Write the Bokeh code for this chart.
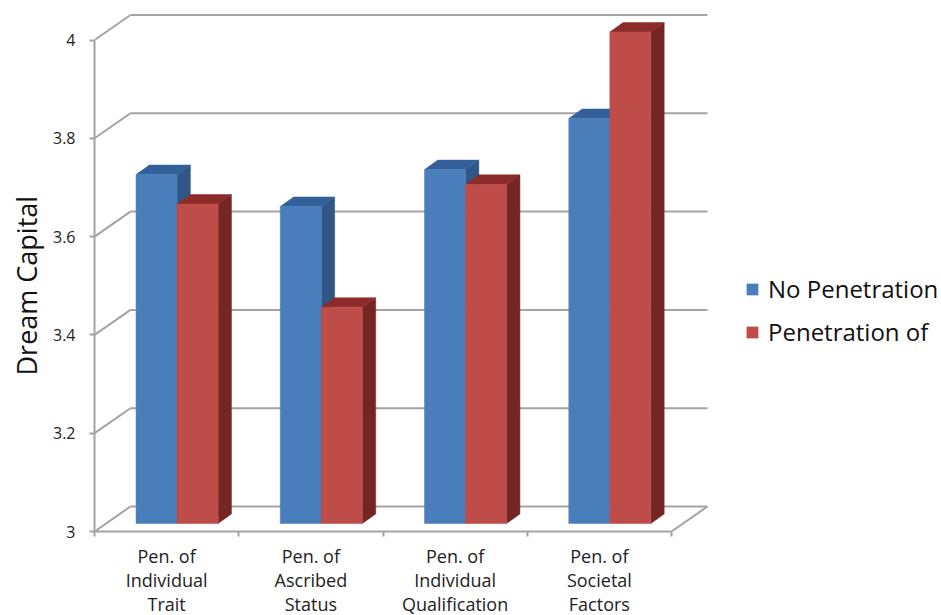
from bokeh.embed import file_html
from bokeh.resources import INLINE
from bokeh.plotting import figure
from bokeh.models import FixedTicker, Legend, LegendItem, Range1d, Title

# Chart values
categories = ["Pen. of\nIndividual\nTrait", "Pen. of\nAscribed\nStatus",
              "Pen. of\nIndividual\nQualification", "Pen. of\nSocietal\nFactors"]
no_penetration = [3.71, 3.645, 3.72, 3.824]
penetration_of = [3.65, 3.44, 3.69, 4.0]
value_ticks = [3, 3.2, 3.4, 3.6, 3.8, 4]
value_labels = ["3", "3.2", "3.4", "3.6", "3.8", "4"]
series_names = ["No Penetration", "Penetration of"]
value_title = "Dream Capital"

# Scale: px per category and px per unit of value
CAT_PX = 144.25
VAL_PX = 491.5
FRAME_W, FRAME_H = 847, 531

# Oblique depth of the box, in data units
DEPTH_X = 36 / CAT_PX
DEPTH_Y = 25 / VAL_PX
BAR_FRONT_X, BAR_BACK_X = 0.29, 0.66   # part of the box depth taken by the bars
BAR_FRONT_Y, BAR_BACK_Y = 0.32, 0.70
BAR_W = 0.2845

GRID = "#a3a3a3"
FONT = "Open Sans"
BLUE = ("#4a7ebb", "#2f5687", "#33609a")
RED = ("#be4d4a", "#752522", "#8c2c2a")

p = figure(width=941, height=615, output_backend="svg", toolbar_location=None,
           x_range=Range1d(0, FRAME_W / CAT_PX),
           y_range=Range1d(3, 3 + FRAME_H / VAL_PX),
           frame_width=FRAME_W, frame_height=FRAME_H,
           min_border_left=94, min_border_right=0, min_border_top=0, min_border_bottom=84)
p.outline_line_color = None
p.grid.visible = False

# Left-hand value axis
ya = p.yaxis[0]
ya.bounds = (3, 4)
ya.ticker = FixedTicker(ticks=value_ticks)
ya.major_label_overrides = {t: s for t, s in zip(value_ticks, value_labels)}
ya.axis_line_color = GRID
ya.axis_line_width = 2
ya.major_tick_line_color = GRID
ya.major_tick_line_width = 2
ya.major_tick_in = 0
ya.major_tick_out = 5
ya.minor_tick_line_color = None
ya.major_label_text_font = FONT
ya.major_label_text_font_size = "16px"
ya.major_label_text_color = "#222222"
ya.major_label_standoff = 14

# The title starts above the frame's bottom edge so it centres on the 3-4 span
p.add_layout(Title(text=value_title, align="left", offset=156, standoff=10,
                   text_font=FONT, text_font_size="27px", text_font_style="normal",
                   text_color="#111111"), "left")

# Category axis: labels sit mid-slot, ticks mark slot edges
n = len(categories)
centers = [i + 0.5 for i in range(n)]
edges = list(range(n + 1))
xa = p.xaxis[0]
xa.bounds = (0, n)
xa.ticker = FixedTicker(ticks=centers, minor_ticks=edges)
xa.major_label_overrides = {c: s for c, s in zip(centers, categories)}
xa.axis_line_color = GRID
xa.axis_line_width = 2
xa.major_tick_line_color = None
xa.minor_tick_line_color = GRID
xa.minor_tick_line_width = 2
xa.minor_tick_in = 0
xa.minor_tick_out = 5
xa.major_label_text_font = FONT
xa.major_label_text_font_size = "18px"
xa.major_label_text_line_height = 1.0
xa.major_label_text_color = "#222222"
xa.major_label_standoff = 6

# Box walls: gridlines along the back, slanted lines to the value axis, floor edge
p.segment(x0=[0] * len(value_ticks), y0=value_ticks,
          x1=[DEPTH_X] * len(value_ticks), y1=[v + DEPTH_Y for v in value_ticks],
          line_color=GRID, line_width=2)
p.segment(x0=[DEPTH_X] * len(value_ticks), y0=[v + DEPTH_Y for v in value_ticks],
          x1=[n + DEPTH_X] * len(value_ticks), y1=[v + DEPTH_Y for v in value_ticks],
          line_color=GRID, line_width=2)
p.segment(x0=[n], y0=[3], x1=[n + DEPTH_X], y1=[3 + DEPTH_Y], line_color=GRID, line_width=2)


def draw_bar(left, value, colors):
    """One oblique bar: side, top, then front face."""
    right = left + BAR_W
    fx, fy = BAR_FRONT_X * DEPTH_X, BAR_FRONT_Y * DEPTH_Y
    bx, by = BAR_BACK_X * DEPTH_X, BAR_BACK_Y * DEPTH_Y
    front, side, top = colors
    p.patch([right + fx, right + bx, right + bx, right + fx],
            [3 + fy, 3 + by, value + by, value + fy],
            fill_color=side, line_color=side, line_width=0.5)
    p.patch([left + fx, left + bx, right + bx, right + fx],
            [value + fy, value + by, value + by, value + fy],
            fill_color=top, line_color=top, line_width=0.5)
    return p.quad(left=[left + fx], right=[right + fx], bottom=[3 + fy], top=[value + fy],
                  fill_color=front, line_color=front, line_width=0.5)


legend_blue = legend_red = None
for i in range(n):
    legend_blue = draw_bar(centers[i] - BAR_W, no_penetration[i], BLUE)
    legend_red = draw_bar(centers[i], penetration_of[i], RED)

legend = Legend(items=[LegendItem(label=series_names[0], renderers=[legend_blue]),
                       LegendItem(label=series_names[1], renderers=[legend_red])],
                location=(651, 183), orientation="vertical",
                background_fill_alpha=0, border_line_color=None,
                padding=0, margin=0, spacing=10, glyph_width=14, glyph_height=14,
                label_standoff=9, label_text_font=FONT, label_text_font_size="24px",
                label_text_color="#111111", label_height=32)
p.add_layout(legend, "center")

open("out.html", "w").write(file_html(p, INLINE))
